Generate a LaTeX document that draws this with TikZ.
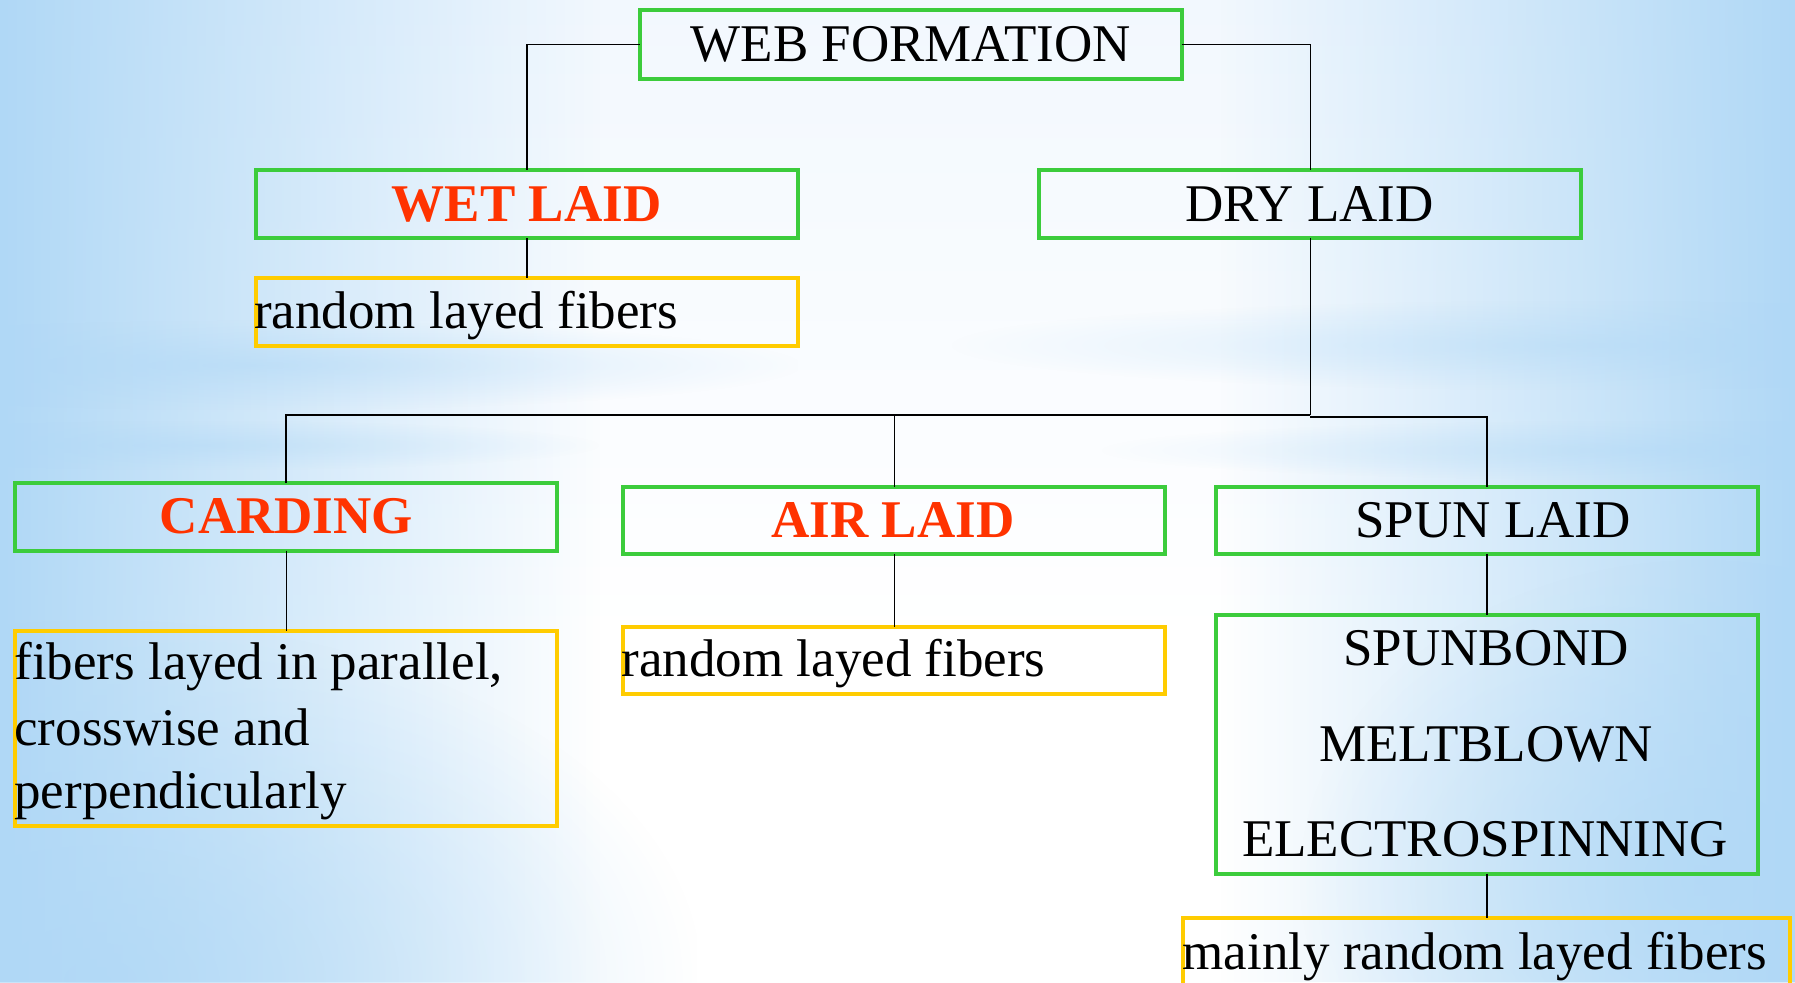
\documentclass[tikz,border=0pt]{standalone}
\usepackage{fontspec}
\setmainfont{Liberation Serif}
\usetikzlibrary{fadings}
\definecolor{boxgreen}{RGB}{60,204,60}
\definecolor{boxyellow}{RGB}{255,204,0}
\definecolor{headred}{RGB}{255,51,0}
\definecolor{bgblue}{RGB}{176,216,246}
\definecolor{bgtop}{RGB}{242,248,254}
\tikzfading[name=edgeleft, left color=transparent!0, middle color=transparent!72, right color=transparent!100]
\tikzfading[name=edgeright, left color=transparent!100, middle color=transparent!72, right color=transparent!0]
\tikzfading[name=blob, inner color=transparent!0, outer color=transparent!100]
\begin{document}
\begin{tikzpicture}[x=1pt,y=-1pt,
  every node/.style={inner sep=0pt, outer sep=0pt},
  greenbox/.style={draw=boxgreen, line width=4pt, minimum width=542pt},
  yellowbox/.style={draw=boxyellow, line width=4pt, minimum width=542pt},
  txt/.style={font=\fontsize{53}{65}\selectfont, text=black},
  redtxt/.style={font=\fontsize{53}{65}\selectfont\bfseries, text=headred},
  link/.style={line width=1.6pt, draw=black}]

% page and soft blue background
\useasboundingbox (0,0) rectangle (1795,982);
\clip (0,0) rectangle (1795,982);
\fill[white] (0,0) rectangle (1795,982);
\shade[top color=bgtop, bottom color=white] (0,0) rectangle (1795,640);
\fill[bgblue, path fading=edgeleft] (0,0) rectangle (600,982);
\fill[bgblue, path fading=blob, opacity=0.8] (-500,620) rectangle (700,1340);
\fill[bgblue, path fading=edgeright] (1220,0) rectangle (1795,982);
\fill[bgblue, path fading=blob, opacity=0.7] (1300,560) rectangle (2100,1200);
% light horizontal streaks
\fill[bgblue, path fading=blob, opacity=0.55] (-300,320) rectangle (800,410);
\fill[bgblue, path fading=blob, opacity=0.45] (-200,420) rectangle (600,470);
\fill[bgblue, path fading=blob, opacity=0.45] (950,300) rectangle (2200,390);
\fill[bgblue, path fading=blob, opacity=0.45] (1100,420) rectangle (2200,480);

% boxes
\node[greenbox, minimum height=68pt] (web) at (910.7,44.5) {};
\node[greenbox, minimum height=68pt] (wet) at (526.7,204.2) {};
\node[yellowbox, minimum height=67.5pt] (wetd) at (526.7,312.2) {};
\node[greenbox, minimum height=68pt] (dry) at (1310.3,204.2) {};
\node[greenbox, minimum height=67.5pt] (card) at (286.3,516.8) {};
\node[yellowbox, minimum height=195pt] (cardd) at (286.3,728.4) {};
\node[greenbox, minimum height=66.5pt] (air) at (894.4,520.5) {};
\node[yellowbox, minimum height=67.5pt] (aird) at (894.4,660.3) {};
\node[greenbox, minimum height=66.5pt] (spun) at (1486.7,520.5) {};
\node[greenbox, minimum height=259pt] (meth) at (1486.7,744.1) {};
\node[yellowbox, minimum width=607pt, minimum height=110pt] (maind) at (1486.7,973) {};

% labels
\node[txt, anchor=base] (webt) at (910.8,61.7) {WEB FORMATION};
\node[redtxt, anchor=base] (wett) at (526.7,221.7) {WET LAID};
\node[txt, anchor=base] (dryt) at (1309.5,221.7) {DRY LAID};
\node[txt, anchor=base west] (wetdt) at (254.3,328.3) {random layed fibers};
\node[redtxt, anchor=base] (cardt) at (286.5,533.6) {CARDING};
\node[redtxt, anchor=base] (airt) at (893,537.3) {AIR LAID};
\node[txt, anchor=base] (spunt) at (1493,537.3) {SPUN LAID};
\node[txt, anchor=base west] (carddt1) at (14.4,679) {fibers layed in parallel,};
\node[txt, anchor=base west] (carddt2) at (14.4,745.2) {crosswise and};
\node[txt, anchor=base west] (carddt3) at (14.4,808.3) {perpendicularly};
\node[txt, anchor=base west] (airdt) at (621.7,676.5) {random layed fibers};
\node[txt, anchor=base] (metht1) at (1486,665.4) {SPUNBOND};
\node[txt, anchor=base] (metht2) at (1486,761.9) {MELTBLOWN};
\node[txt, anchor=base] (metht3) at (1485,856.6) {ELECTROSPINNING};
\node[txt, anchor=base west] (maindt) at (1182.5,969.8) {mainly random layed fibers};

% connectors
\draw[link] (web.west) -| (wet.north);
\draw[link] (web.east) -| (dry.north);
\draw[link] (wet.south) -- (wetd.north);
\coordinate (bus) at (dry.south |- 0,415);
\coordinate (bus2) at (dry.south |- 0,417);
\draw[link] (dry.south) -- (bus);
\draw[link, line width=2.2pt] (bus) -| (card.north);
\draw[link] (bus) -| (air.north);
\draw[link] (bus2) -| (spun.north);
\draw[link] (card.south) -- (cardd.north);
\draw[link] (air.south) -- (aird.north);
\draw[link] (spun.south) -- (meth.north);
\draw[link] (meth.south) -- (maind.north);
\end{tikzpicture}
\end{document}
